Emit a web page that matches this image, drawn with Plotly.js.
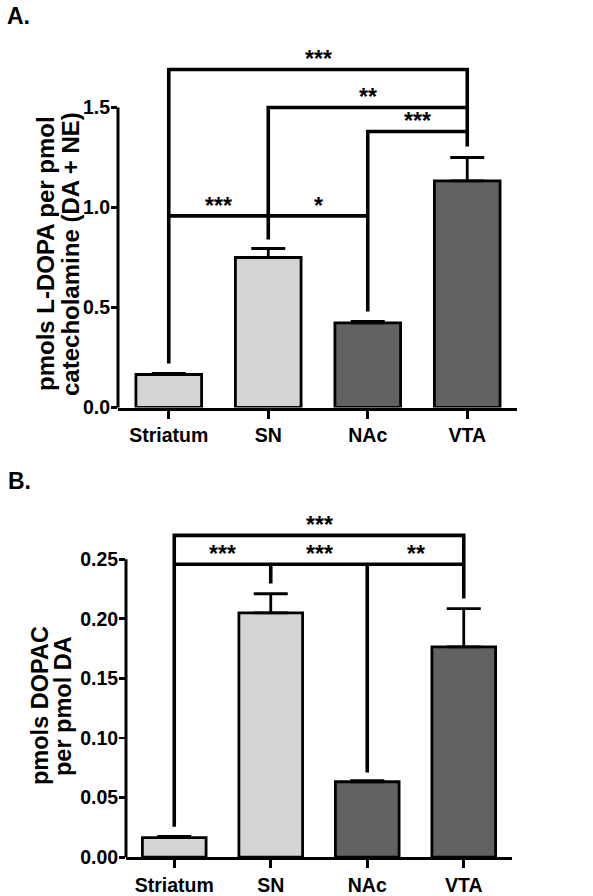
<!DOCTYPE html>
<html>
<head>
<meta charset="utf-8">
<script src="https://cdn.plot.ly/plotly-3.0.1.min.js"></script>
<style>html,body{margin:0;padding:0;background:#fff;}#chart{width:593px;height:896px;}</style>
</head>
<body>
<div id="chart"></div>
<script>
// ---------- data ----------
const categories = ['Striatum', 'SN', 'NAc', 'VTA'];
const ldopaMean = [0.165, 0.750, 0.423, 1.133];
const ldopaSem  = [0.006, 0.045, 0.007, 0.117];
const dopacMean = [0.0165, 0.205, 0.0633, 0.1765];
const dopacSem  = [0.001, 0.016, 0.001, 0.032];
const barColors = ['#d4d4d4', '#d4d4d4', '#626262', '#626262'];

const ticksA_vals = [0, 0.5, 1.0, 1.5];
const ticksA_text = ['0.0', '0.5', '1.0', '1.5'];
const ticksB_vals = [0, 0.05, 0.10, 0.15, 0.20, 0.25];
const ticksB_text = ['0.00', '0.05', '0.10', '0.15', '0.20', '0.25'];

const titleA_lines = ['pmols L-DOPA per pmol', 'catecholamine (DA + NE)'];
const titleB_lines = ['pmols DOPAC', 'per pmol DA'];

// significance brackets (x = category index, y = data value)
const bracketA_x = [[0, 0, 3, 3], [1, 1, 3], [2, 2, 3], [0, 2]];
const bracketA_y = [[0.22, 1.69, 1.69, 1.305], [0.84, 1.50, 1.50], [0.48, 1.38, 1.38], [0.958, 0.958]];
const starA_text = ['***', '**', '***', '***', '*'];
const starA_x    = [1.5, 2.0, 2.5, 0.5, 1.5];
const starA_y    = [1.69, 1.50, 1.38, 0.958, 0.958];

const bracketB_x = [[0, 0, 3, 3], [0, 3], [1, 1], [2, 2]];
const bracketB_y = [[0.0255, 0.270, 0.270, 0.217], [0.2458, 0.2458], [0.2458, 0.2296], [0.2458, 0.071]];
const starB_text = ['***', '***', '***', '**'];
const starB_x    = [1.5, 0.5, 1.5, 2.5];
const starB_y    = [0.270, 0.2458, 0.2458, 0.2458];

// ---------- layout helpers ----------
const W = 593, H = 896;
const FONT = 'Liberation Sans, Arial, Helvetica, sans-serif';
const idx = categories.map((_, i) => i);
const rangeA = [0, 1.75], rangeB = [0, 0.285];
const domA_y = [1 - 407.5 / H, 1 - (407.5 - 200 * rangeA[1]) / H];
const domB_y = [1 - 857.2 / H, 1 - (857.2 - 1192 * rangeB[1]) / H];
const domA_x = [118 / W, 517 / W];
const domB_x = [126 / W, 512 / W];

function barTrace(vals, errs, xa, ya) {
  return {
    type: 'bar', x: idx, y: vals, xaxis: xa, yaxis: ya, width: 0.66,
    marker: {color: barColors, line: {color: '#000', width: 2.8}},
    error_y: {type: 'data', array: errs, arrayminus: errs.map(() => 0), symmetric: false,
              color: '#000', thickness: 2.8, width: 17},
    hoverinfo: 'skip', showlegend: false
  };
}
function bracketTraces(xs, ys, xa, ya) {
  return xs.map((x, i) => ({
    type: 'scatter', mode: 'lines', x: x, y: ys[i], xaxis: xa, yaxis: ya,
    line: {color: '#000', width: 3.6}, hoverinfo: 'skip', showlegend: false
  }));
}
function starAnns(texts, xs, ys, xr, yr) {
  return texts.map((t, i) => ({
    text: t, x: xs[i], y: ys[i], xref: xr, yref: yr, showarrow: false,
    xanchor: 'center', yanchor: 'bottom', yshift: -5,
    font: {family: FONT, size: 23, color: '#000', weight: 'bold'}
  }));
}
function titleAnns(lines, xs, yc, size) {
  return lines.map((t, i) => ({
    text: t, xref: 'paper', yref: 'paper', x: xs[i] / W, y: 1 - yc / H,
    xanchor: 'center', yanchor: 'middle', textangle: -90, showarrow: false,
    font: {family: FONT, size: size, color: '#000', weight: 'bold'}
  }));
}

const data = [
  barTrace(ldopaMean, ldopaSem, 'x', 'y'),
  ...bracketTraces(bracketA_x, bracketA_y, 'x', 'y'),
  barTrace(dopacMean, dopacSem, 'x2', 'y2'),
  ...bracketTraces(bracketB_x, bracketB_y, 'x2', 'y2')
];

const tickFont = {family: FONT, size: 19.5, color: '#000', weight: 'bold'};
const xCommon = {
  tickmode: 'array', tickvals: idx, ticktext: categories, ticks: 'outside', ticklen: 8,
  tickwidth: 2.6, tickcolor: '#000', showline: true, linecolor: '#000', linewidth: 3,
  showgrid: false, zeroline: false, tickfont: tickFont, fixedrange: true
};
const yCommon = {
  tickmode: 'array', ticks: 'outside', ticklen: 6, tickwidth: 2.6, tickcolor: '#000',
  showline: false, showgrid: false, zeroline: false, tickfont: tickFont, fixedrange: true,
  ticklabelstandoff: -3
};

const layout = {
  width: W, height: H, margin: {l: 0, r: 0, t: 0, b: 0},
  paper_bgcolor: '#fff', plot_bgcolor: 'rgba(0,0,0,0)', showlegend: false,
  font: {family: FONT, color: '#000'},
  xaxis: Object.assign({}, xCommon, {domain: domA_x, range: [-0.51, 3.5], anchor: 'y'}),
  yaxis: Object.assign({}, yCommon, {domain: domA_y, range: rangeA, tickvals: ticksA_vals, ticktext: ticksA_text, anchor: 'x'}),
  xaxis2: Object.assign({}, xCommon, {domain: domB_x, range: [-0.5, 3.5], anchor: 'y2'}),
  yaxis2: Object.assign({}, yCommon, {domain: domB_y, range: rangeB, tickvals: ticksB_vals, ticktext: ticksB_text, anchor: 'x2'}),
  shapes: [
    {type: 'line', xref: 'paper', yref: 'paper', x0: domA_x[0], x1: domA_x[0],
     y0: domA_y[0], y1: domA_y[0] + (ticksA_vals[3] / rangeA[1]) * (domA_y[1] - domA_y[0]),
     line: {color: '#000', width: 3}},
    {type: 'line', xref: 'paper', yref: 'paper', x0: domB_x[0], x1: domB_x[0],
     y0: domB_y[0], y1: domB_y[0] + (ticksB_vals[5] / rangeB[1]) * (domB_y[1] - domB_y[0]),
     line: {color: '#000', width: 3}}
  ],
  annotations: [
    {text: 'A.', xref: 'paper', yref: 'paper', x: 5 / W, y: 1 - 16 / H, xanchor: 'left', yanchor: 'middle',
     showarrow: false, font: {family: FONT, size: 23, color: '#000', weight: 'bold'}},
    {text: 'B.', xref: 'paper', yref: 'paper', x: 6 / W, y: 1 - 481 / H, xanchor: 'left', yanchor: 'middle',
     showarrow: false, font: {family: FONT, size: 23, color: '#000', weight: 'bold'}},
    ...titleAnns(titleA_lines, [46, 71], 254, 24),
    ...titleAnns(titleB_lines, [40, 63], 706, 23.5),
    ...starAnns(starA_text, starA_x, starA_y, 'x', 'y'),
    ...starAnns(starB_text, starB_x, starB_y, 'x2', 'y2')
  ]
};

Plotly.newPlot('chart', data, layout, {displayModeBar: false, staticPlot: true});
</script>
</body>
</html>
